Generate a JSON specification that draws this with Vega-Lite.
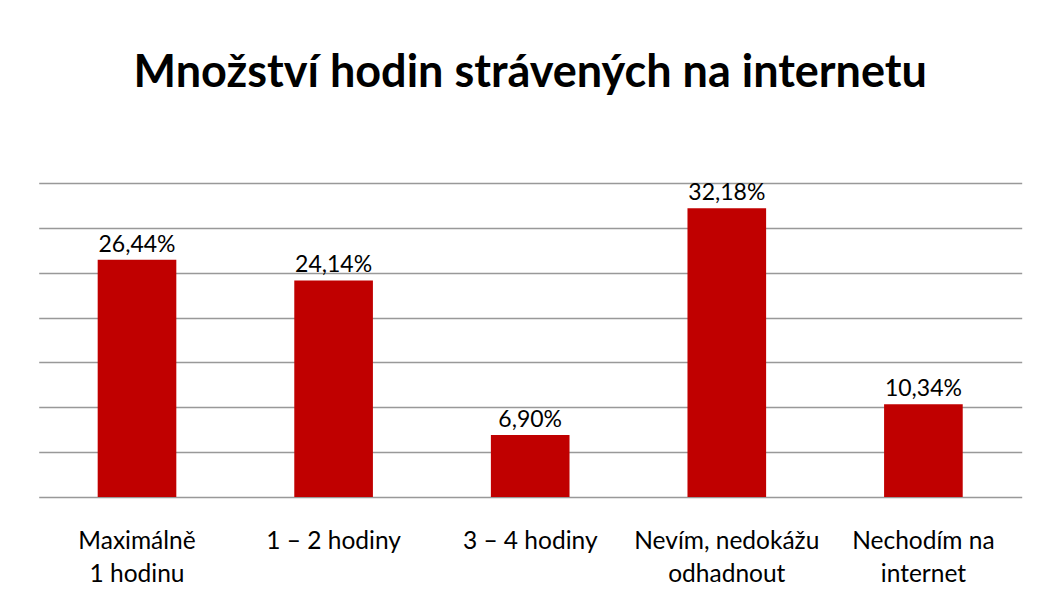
{
  "$schema": "https://vega.github.io/schema/vega-lite/v6.json",
  "width": 983,
  "height": 314,
  "autosize": {"type": "none"},
  "padding": {"left": 38.7, "top": 183, "right": 15.3, "bottom": 111},
  "background": "white",
  "config": {
    "locale": {"number": {"decimal": ",", "thousands": " ", "grouping": [3], "currency": ["", ""]}},
    "view": {"stroke": null},
    "font": "Lato"
  },
  "title": {
    "text": "Množství hodin strávených na internetu",
    "fontSize": 45,
    "font": "Lato",
    "fontWeight": "bold",
    "color": "#000000",
    "anchor": "middle",
    "offset": 86
  },
  "data": {
    "values": [
      {"kategorie": "Maximálně\n1 hodinu", "podil": 0.2644},
      {"kategorie": "1 – 2 hodiny", "podil": 0.2414},
      {"kategorie": "3 – 4 hodiny", "podil": 0.069},
      {"kategorie": "Nevím, nedokážu\nodhadnout", "podil": 0.3218},
      {"kategorie": "Nechodím na\ninternet", "podil": 0.1034}
    ]
  },
  "encoding": {
    "x": {
      "field": "kategorie",
      "type": "nominal",
      "sort": null,
      "scale": {"paddingInner": 0.6, "paddingOuter": 0.3},
      "axis": {
        "title": null,
        "labelAngle": 0,
        "domain": false,
        "ticks": false,
        "labelPadding": 32,
        "labelBaseline": "top",
        "labelFontSize": 24.5,
        "labelColor": "#000000",
        "labelExpr": "split(datum.value, '\\n')",
        "labelLineHeight": 33,
        "labelLimit": 0
      }
    },
    "y": {
      "field": "podil",
      "type": "quantitative",
      "scale": {"domain": [0, 0.35]},
      "axis": {
        "values": [0, 0.05, 0.1, 0.15, 0.2, 0.25, 0.3, 0.35],
        "labels": false,
        "ticks": false,
        "domain": false,
        "title": null,
        "gridColor": "#999999",
        "gridOpacity": 1,
        "gridWidth": 1.3
      }
    }
  },
  "layer": [
    {"mark": {"type": "bar", "color": "#C00000"}},
    {
      "mark": {"type": "text", "dy": -8, "baseline": "alphabetic", "fontSize": 23, "color": "#000000"},
      "encoding": {"text": {"field": "podil", "type": "quantitative", "format": ".2%"}}
    }
  ]
}
